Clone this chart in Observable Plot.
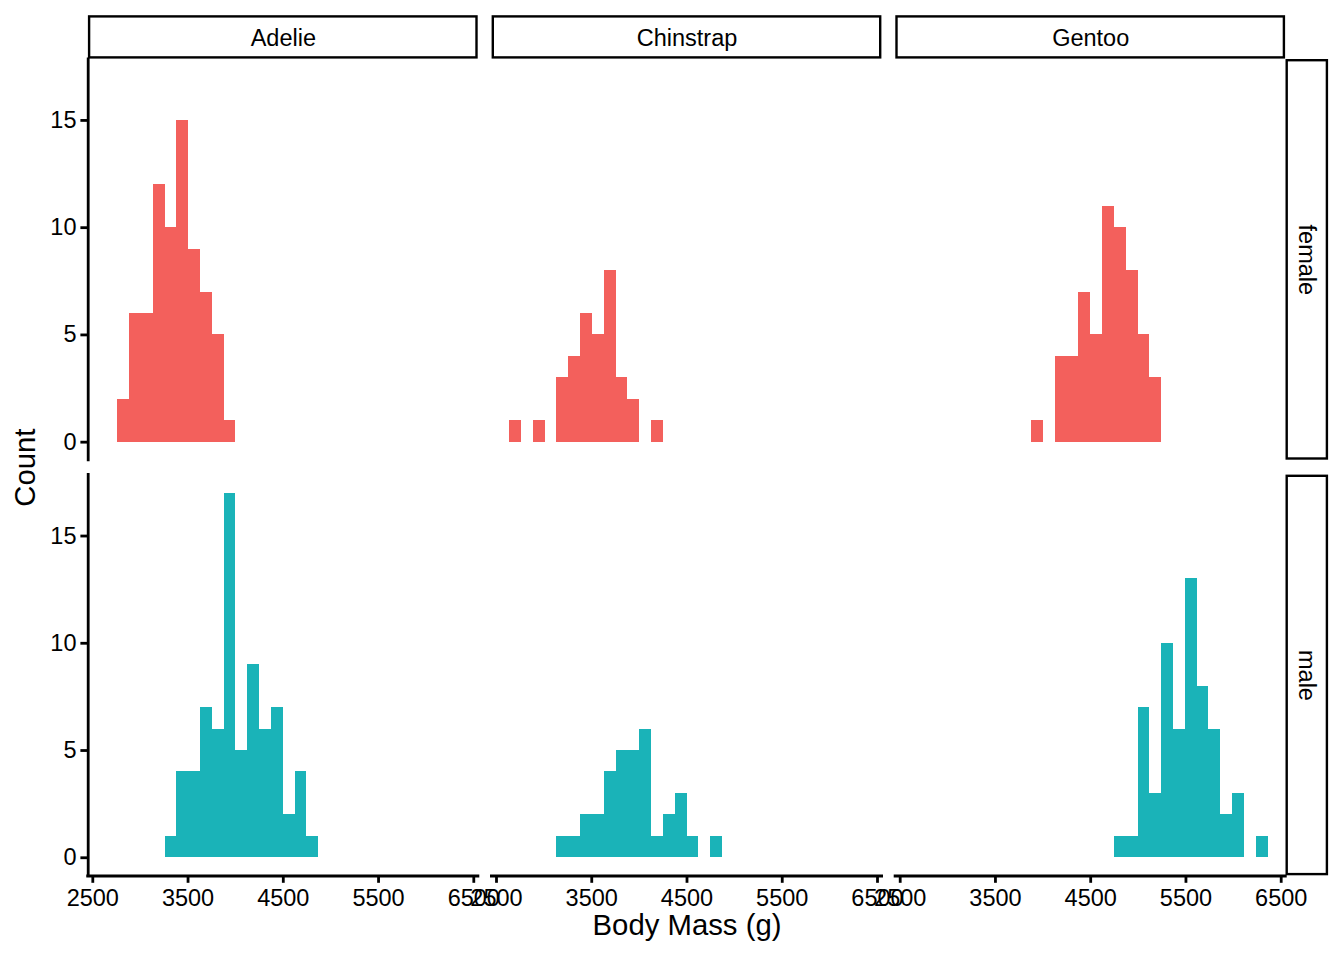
<!DOCTYPE html>
<html>
<head>
<meta charset="utf-8">
<script src="https://cdn.jsdelivr.net/npm/d3@7"></script>
<script src="https://cdn.jsdelivr.net/npm/@observablehq/plot@0.6"></script>
<style>
  html, body { margin: 0; padding: 0; background: #ffffff; }
  #chart { width: 1344px; height: 960px; }
</style>
</head>
<body>
<div id="chart"></div>
<script>
// ---------------- data ----------------
const species = ["Adelie", "Chinstrap", "Gentoo"];
const sexes = ["female", "male"];
const sexColors = ["#F3605C", "#1AB3B8"];

// histogram bin edges (30 bins, g)
const breaks = [2637.9, 2762.1, 2886.2, 3010.3, 3134.5, 3258.6, 3382.8, 3506.9,
  3631.0, 3755.2, 3879.3, 4003.4, 4127.6, 4251.7, 4375.9, 4500.0, 4624.1,
  4748.3, 4872.4, 4996.6, 5120.7, 5244.8, 5369.0, 5493.1, 5617.2, 5741.4,
  5865.5, 5989.7, 6113.8, 6237.9, 6362.1];

// counts per bin
const adelieFemale    = [0,2,6,6,12,10,15,9,7,5,1,0,0,0,0,0,0,0,0,0,0,0,0,0,0,0,0,0,0,0];
const adelieMale      = [0,0,0,0,0,1,4,4,7,6,17,5,9,6,7,2,4,1,0,0,0,0,0,0,0,0,0,0,0,0];
const chinstrapFemale = [1,0,1,0,3,4,6,5,8,3,2,0,1,0,0,0,0,0,0,0,0,0,0,0,0,0,0,0,0,0];
const chinstrapMale   = [0,0,0,0,1,1,2,2,4,5,5,6,1,2,3,1,0,1,0,0,0,0,0,0,0,0,0,0,0,0];
const gentooFemale    = [0,0,0,0,0,0,0,0,0,0,1,0,4,4,7,5,11,10,8,5,3,0,0,0,0,0,0,0,0,0];
const gentooMale      = [0,0,0,0,0,0,0,0,0,0,0,0,0,0,0,0,0,1,1,7,3,10,6,13,8,6,2,3,0,1];

const xTicks = [2500, 3500, 4500, 5500, 6500];
const yTicks = [0, 5, 10, 15];
const xTitle = "Body Mass (g)";
const yTitle = "Count";

// ---------------- build table ----------------
const groups = [
  ["Adelie", "female", adelieFemale], ["Adelie", "male", adelieMale],
  ["Chinstrap", "female", chinstrapFemale], ["Chinstrap", "male", chinstrapMale],
  ["Gentoo", "female", gentooFemale], ["Gentoo", "male", gentooMale]
];
const bars = [];
for (const [sp, sx, counts] of groups) {
  counts.forEach((c, i) => {
    if (c > 0) bars.push({species: sp, sex: sx, x1: breaks[i], x2: breaks[i + 1], count: c});
  });
}

// ---------------- layout ----------------
const W = 1344, H = 960;
const mL = 87.7, mR = 58.7, mT = 58.8, mB = 84.5;
const gapX = 13.5, gapY = 14.5;
const innerW = W - mL - mR, innerH = H - mT - mB;
const bw = (innerW - 2 * gapX) / 3, bh = (innerH - gapY) / 2;
const padX = gapX / (bw + gapX), padY = gapY / (bh + gapY);

// ggplot-like expansion of the bar range
const span = breaks[breaks.length - 1] - breaks[0];
const xDom = [breaks[0] - 0.05 * span, breaks[breaks.length - 1] + 0.05 * span];
const yMaxCount = d3.max(bars, d => d.count);
const yDom = [-0.05 * yMaxCount, yMaxCount * 1.05];
const pxX = bw / (xDom[1] - xDom[0]);
const pxY = bh / (yDom[1] - yDom[0]);

const stripH = 43.8, stripW = 43;
const topStrips = species.map(s => ({fx: s, fy: "female", label: s}));
const rightStrips = sexes.map(s => ({fx: "Gentoo", fy: s, label: s}));
const font = "'Liberation Sans', Arial, Helvetica, sans-serif";

const chart = Plot.plot({
  width: W, height: H,
  marginLeft: mL, marginRight: mR, marginTop: mT, marginBottom: mB,
  x: {domain: xDom},
  y: {domain: yDom},
  fx: {domain: species, paddingInner: padX, paddingOuter: 0, round: false, axis: null},
  fy: {domain: sexes, paddingInner: padY, paddingOuter: 0, round: false, axis: null},
  color: {domain: sexes, range: sexColors},
  style: {fontFamily: font, fontSize: "23.5px", color: "black", background: "white", overflow: "visible"},
  marks: [
    Plot.rect(bars, {x1: "x1", x2: "x2", y1: 0, y2: "count", fx: "species", fy: "sex", fill: "sex", shapeRendering: "crispEdges"}),
    // axis lines
    Plot.ruleX(sexes.map(s => ({fx: "Adelie", fy: s})), {fx: "fx", fy: "fy", x: xDom[0], stroke: "black", strokeWidth: 2.8, strokeLinecap: "square"}),
    Plot.ruleY(species.map(s => ({fx: s, fy: "male"})), {fx: "fx", fy: "fy", y: yDom[0], stroke: "black", strokeWidth: 2.8, strokeLinecap: "square"}),
    Plot.axisX({anchor: "bottom", ticks: xTicks, tickFormat: d => String(d), tickSize: 7.3, tickPadding: 6, strokeWidth: 2.8, fontSize: 23.5, label: null}),
    Plot.axisY({anchor: "left", ticks: yTicks, tickFormat: d => String(d), tickSize: 7.3, tickPadding: 4.4, strokeWidth: 2.8, fontSize: 23.5, label: null}),
    // facet strips
    Plot.rect(topStrips, {fx: "fx", fy: "fy", x1: xDom[0], x2: xDom[1], y1: yDom[1], y2: yDom[1] + stripH / pxY,
      fill: "white", stroke: "black", strokeWidth: 2.4, inset: 1.4}),
    Plot.text(topStrips, {fx: "fx", fy: "fy", text: "label", frameAnchor: "top", dy: -13.3, lineAnchor: "bottom", textAnchor: "middle", fontSize: 23.5, fill: "black"}),
    Plot.rect(rightStrips, {fx: "fx", fy: "fy", x1: xDom[1], x2: xDom[1] + stripW / pxX, y1: yDom[0], y2: yDom[1],
      fill: "white", stroke: "black", strokeWidth: 2.4, inset: 1.4}),
    Plot.text(rightStrips, {fx: "fx", fy: "fy", text: "label", frameAnchor: "right", dx: 13, rotate: 90, lineAnchor: "bottom", textAnchor: "middle", fontSize: 23.5, fill: "black"}),
    // axis titles
    Plot.text([{fx: "Adelie", fy: "female", label: yTitle}], {fx: "fx", fy: "fy", text: "label", frameAnchor: "bottom-left", dx: -52.7, dy: gapY / 2, rotate: -90, lineAnchor: "bottom", textAnchor: "middle", fontSize: 29.3, fill: "black"}),
    Plot.text([{fx: "Chinstrap", fy: "male", label: xTitle}], {fx: "fx", fy: "fy", text: "label", frameAnchor: "bottom", dy: 58.5, lineAnchor: "bottom", textAnchor: "middle", fontSize: 29.3, fill: "black"})
  ]
});
document.getElementById("chart").appendChild(chart);
</script>
</body>
</html>
